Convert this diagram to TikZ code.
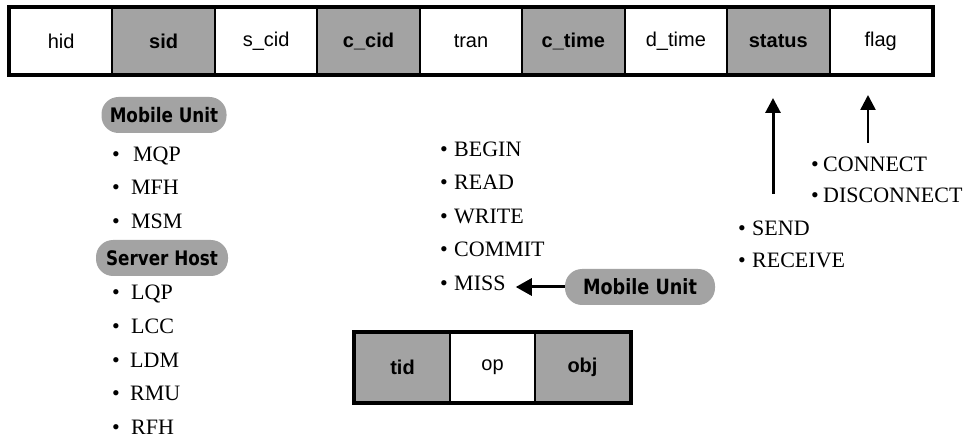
\documentclass[tikz,border=0pt]{standalone}
\usepackage{fontspec}
\setmainfont{Liberation Serif}
\newfontfamily\cellfont{Liberation Sans}
\newfontfamily\pillfont[FakeStretch=0.84]{DejaVu Sans}
\usetikzlibrary{arrows.meta}
\definecolor{halftone}{gray}{0.64}

\tikzset{
  field/.style={draw=black, line width=2pt, minimum width=102.44pt,
    minimum height=66pt, inner sep=0pt,
    font=\cellfont\fontsize{20}{20}\selectfont},
  keyfield/.style={field, fill=halftone, font=\cellfont\bfseries\fontsize{20}{20}\selectfont},
  opfield/.style={field, minimum height=69pt},
  opkey/.style={keyfield, minimum height=69pt},
  pill/.style={fill=halftone, rounded corners=17pt, minimum height=36pt,
    inner xsep=6pt, inner ysep=0pt, font=\pillfont\bfseries\fontsize{20}{20}\selectfont},
  item/.style={anchor=base west, inner sep=0pt, font=\fontsize{22}{22}\selectfont},
  flow/.style={line width=3pt, -{Triangle[width=15pt,length=15pt]}},
}
\newcommand{\bulletgap}[1]{\makebox[#1][l]{\textbullet}}

\begin{document}
\begin{tikzpicture}[x=1pt,y=-1pt]
\useasboundingbox (0,0) rectangle (967,438);

% record header fields
\node[field]    (hid)    at (61.22,41)  {hid};
\node[keyfield] (sid)    at (163.66,41) {sid};
\node[field]    (scid)   at (266.10,41) {s\_cid};
\node[keyfield] (ccid)   at (368.54,41) {c\_cid};
\node[field]    (tran)   at (470.98,41) {tran};
\node[keyfield] (ctime)  at (573.42,41) {c\_time};
\node[field]    (dtime)  at (675.86,41) {d\_time};
\node[keyfield] (status) at (778.30,41) {status};
\node[field]    (flag)   at (880.74,41) {flag};
\draw[line width=3.5pt] (hid.north west) rectangle (flag.south east);

% sid values
\node[pill, minimum width=125pt] (mu1) at (164,115) {Mobile Unit};
\node[item] (mqp) at (112,162) {\bulletgap{21pt}MQP};
\node[item] (mfh) at (112,195) {\bulletgap{19pt}MFH};
\node[item] (msm) at (112,229) {\bulletgap{19pt}MSM};
\node[pill, minimum width=132pt] (sh) at (162,258) {Server Host};
\node[item] (lqp) at (112,300) {\bulletgap{19pt}LQP};
\node[item] (lcc) at (112,334) {\bulletgap{19pt}LCC};
\node[item] (ldm) at (112,367) {\bulletgap{18pt}LDM};
\node[item] (rmu) at (112,400) {\bulletgap{18pt}RMU};
\node[item] (rfh) at (112,434) {\bulletgap{19pt}RFH};

% operations of a transaction
\node[item] (begin)  at (440,157) {\bulletgap{14pt}BEGIN};
\node[item] (read)   at (440,190) {\bulletgap{14pt}READ};
\node[item] (write)  at (440,224) {\bulletgap{14pt}WRITE};
\node[item] (commit) at (440,257) {\bulletgap{14pt}COMMIT};
\node[item] (miss)   at (440,291) {\bulletgap{14pt}MISS};
\node[pill, minimum width=150pt, font=\pillfont\bfseries\fontsize{21}{21}\selectfont] (mu2) at (640,287) {Mobile Unit};
\draw[flow, -{Triangle[width=17pt,length=16pt]}] (mu2.west) -- ([xshift=10pt]miss.east |- mu2.west);

% operation record
\node[opkey,   minimum width=95pt] (tid) at (402.5,367.5) {tid};
\node[opfield, minimum width=85pt] (op)  at (492.5,367.5) {op};
\node[opkey,   minimum width=95pt] (obj) at (582.5,367.5) {obj};
\draw[line width=3.5pt] (tid.north west) rectangle (obj.south east);

% status values
\node[item] (send)    at (738,236) {\bulletgap{14pt}SEND};
\node[item] (receive) at (738,268) {\bulletgap{14pt}RECEIVE};
\coordinate (sendtail) at (773,194);
\coordinate (sendtip)  at (773,98);
\draw[flow] (sendtail) -- (sendtip);

% flag values
\node[item] (connect)    at (811,172) {\bulletgap{12pt}CONNECT};
\node[item] (disconnect) at (811,203) {\bulletgap{12pt}DISCONNECT};
\coordinate (flagtail) at (868,143);
\coordinate (flagtip)  at (868,95);
\draw[flow, line width=2.5pt] (flagtail) -- (flagtip);
\end{tikzpicture}
\end{document}
